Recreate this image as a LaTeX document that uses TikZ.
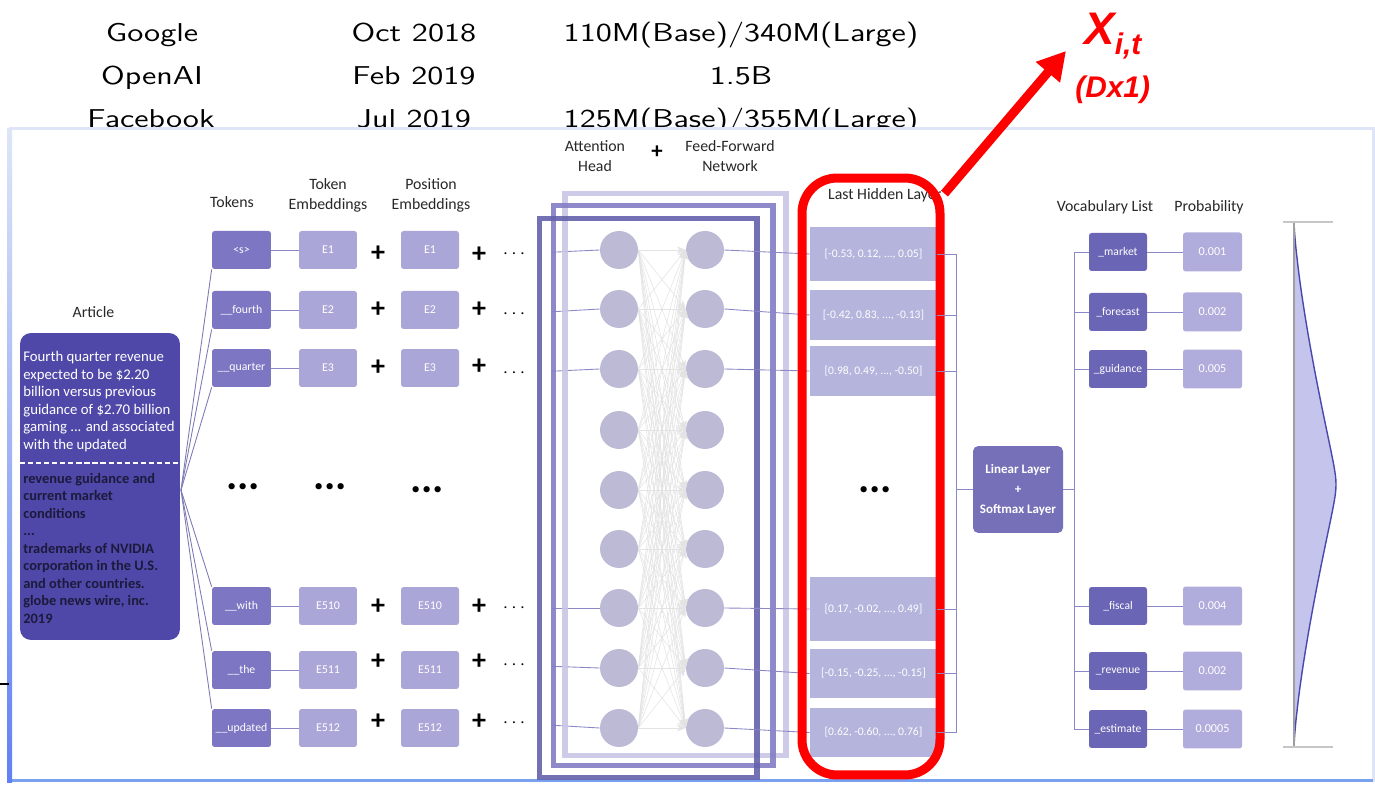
\documentclass[tikz,border=0pt]{standalone}
\usepackage{fontspec}
\usepackage{graphicx}
\setmainfont{Carlito}
\newfontfamily\redfont{Liberation Sans}
\usetikzlibrary{arrows.meta,shapes.geometric}

\definecolor{artc}{RGB}{80,72,168}
\definecolor{artdark}{RGB}{28,26,60}
\definecolor{tokc}{RGB}{125,118,195}
\definecolor{embc}{RGB}{170,166,216}
\definecolor{hidc}{RGB}{180,180,220}
\definecolor{neuc}{RGB}{188,186,213}
\definecolor{vocc}{RGB}{107,101,181}
\definecolor{prbc}{RGB}{176,172,220}
\definecolor{linc}{RGB}{118,112,184}
\definecolor{frmA}{RGB}{200,198,230}
\definecolor{frmB}{RGB}{130,126,196}
\definecolor{frmC}{RGB}{100,98,172}
\definecolor{linkc}{RGB}{140,136,200}
\definecolor{paneltop}{RGB}{222,229,247}
\definecolor{panelbot}{RGB}{122,160,240}
\definecolor{curvec}{RGB}{196,196,236}
\definecolor{curveln}{RGB}{72,72,176}
\definecolor{hdrc}{RGB}{40,40,40}

\newcommand{\wide}[1]{\scalebox{1.27}[1]{#1}}

\begin{document}
\begin{tikzpicture}[x=0.02cm, y=-0.02cm,
  every node/.style={inner sep=1pt},
  toptxt/.style={font=\sffamily\fontsize{14.7}{14.7}\selectfont, anchor=base},
  hdr/.style={font=\fontsize{9}{11.4}\selectfont, text=hdrc, align=center},
  arttxt/.style={font=\fontsize{8.4}{9.96}\selectfont, align=left, anchor=north west, inner sep=0pt},
  tok/.style={fill=tokc, rounded corners=1.5pt, minimum width=1.18cm, minimum height=0.76cm,
              text=white, font=\fontsize{6.7}{8}\selectfont},
  emb/.style={fill=embc, rounded corners=1.5pt, minimum width=1.16cm, minimum height=0.76cm,
              text=white, font=\fontsize{6.8}{8}\selectfont},
  hid/.style={fill=hidc, minimum width=2.54cm, minimum height=1cm,
              text=white, font=\fontsize{6.6}{8}\selectfont},
  voc/.style={fill=vocc, rounded corners=1.5pt, minimum width=1.16cm, minimum height=0.76cm,
              text=white, font=\fontsize{6.6}{8}\selectfont},
  prb/.style={fill=prbc, rounded corners=1.5pt, minimum width=1.18cm, minimum height=0.78cm,
              text=white, font=\fontsize{6.9}{8}\selectfont},
  lin/.style={fill=linc, rounded corners=3pt, minimum width=1.8cm, minimum height=1.74cm,
              text=white, align=center, font=\fontsize{7.4}{11.4}\selectfont\bfseries},
  neu/.style={circle, fill=neuc, minimum size=0.76cm, inner sep=0pt},
  frm/.style={line width=0.11cm, draw opacity=0.9},
  pl/.style={font=\fontsize{16}{16}\selectfont\bfseries},
  cd/.style={font=\fontsize{11}{11}\selectfont},
  bigdots/.style={font=\fontsize{24}{24}\selectfont\bfseries},
  link/.style={draw=linkc, line width=0.5pt},
  fanln/.style={draw=linkc!90!black, line width=0.5pt},
  mesh/.style={draw=black!11, line width=0.3pt, -{Stealth[length=5pt,width=4pt]}},
  hl/.style={draw=red, line width=0.18cm, rounded corners=0.7cm},
  redarr/.style={draw=red, line width=0.18cm, -{Triangle[length=0.56cm,width=0.6cm]}},
  redtxt/.style={font=\redfont\bfseries\itshape, text=red, inner sep=0pt}]

\useasboundingbox (0,0) rectangle (1375,786);

%% --- Model table (top of slide) ---
\node[toptxt] (m1) at (152,42)  {\wide{Google}};
\node[toptxt] (d1) at (414,42)  {\wide{Oct 2018}};
\node[toptxt] (s1) at (741,42)  {\wide{110M(Base)/340M(Large)}};
\node[toptxt] (m2) at (152,85)  {\wide{OpenAI}};
\node[toptxt] (d2) at (414,85)  {\wide{Feb 2019}};
\node[toptxt] (s2) at (741,85)  {\wide{1.5B}};
\node[toptxt] (m3) at (151,128) {\wide{Facebook}};
\node[toptxt] (d3) at (414,128) {\wide{Jul 2019}};
\node[toptxt] (s3) at (741,128) {\wide{125M(Base)/355M(Large)}};

%% --- Slide panel ---
\draw[draw=paneltop, line width=0.06cm, fill=white] (10,129) rectangle (1373,780);
\draw[draw=panelbot, line width=0.06cm] (10,780) -- (1373,780);
\shade[top color=paneltop, bottom color=panelbot!80!blue] (7,129) rectangle (12,782);
\draw[line width=0.03cm] (0,684) -- (9,684);

%% --- Article ---
\node[hdr] (arthdr) at (93.5,312) {Article};
\node[fill=artc, rounded corners=0.22cm, minimum width=3.2cm, minimum height=6.14cm] (art) at (100,486.5) {};
\node[arttxt, text=white] (artA) at (23,351) {Fourth quarter revenue\\expected to be \$2.20\\billion versus previous\\guidance of \$2.70 billion\\gaming ... and associated\\with the updated};
\draw[white, line width=0.6pt, dash pattern=on 3pt off 1.6pt] (art.west |- 0,463) -- (art.east |- 0,463);
\node[arttxt, text=artdark, font=\fontsize{8.2}{9.96}\selectfont\bfseries] (artB) at (23,473) {revenue guidance and\\current market\\conditions\\...\\trademarks of NVIDIA\\corporation in the U.S.\\and other countries.\\globe news wire, inc.\\2019};

%% --- Headers ---
\node[hdr] (tokhdr) at (232,202) {Tokens};
\node[hdr] (tehdr)  at (328,195) {Token\\Embeddings};
\node[hdr] (pehdr)  at (431,195) {Position\\Embeddings};
\node[hdr] (athdr)  at (595,156) {Attention\\Head};
\node[pl, font=\fontsize{13}{13}\selectfont\bfseries] (atplus) at (657,152) {+};
\node[hdr] (ffhdr)  at (730,156) {Feed-Forward\\Network};
\node[hdr, anchor=west] (lhhdr) at (826,195) {Last Hidden Layer};
\node[hdr] (vochdr) at (1105,207) {Vocabulary List};
\node[hdr] (prbhdr) at (1209,207) {Probability};

%% --- Tokens and embeddings ---
\node[tok] (T1) at (241.5,250) {\textless s\textgreater};
\node[tok] (T2) at (241.5,310) {\_\_fourth};
\node[tok] (T3) at (241.5,368) {\_\_quarter};
\node[tok] (T4) at (241.5,606) {\_\_with};
\node[tok] (T5) at (241.5,670) {\_\_the};
\node[tok] (T6) at (241.5,728) {\_\_updated};

\node[emb] (TE1) at (328,250) {E1};   \node[emb] (PE1) at (430,250) {E1};
\node[emb] (TE2) at (328,310) {E2};   \node[emb] (PE2) at (430,310) {E2};
\node[emb] (TE3) at (328,368) {E3};   \node[emb] (PE3) at (430,368) {E3};
\node[emb] (TE4) at (328,606) {E510}; \node[emb] (PE4) at (430,606) {E510};
\node[emb] (TE5) at (328,670) {E511}; \node[emb] (PE5) at (430,670) {E511};
\node[emb] (TE6) at (328,728) {E512}; \node[emb] (PE6) at (430,728) {E512};

\node[pl] (PA1) at (378,254) {+}; \node[pl] (PB1) at (479,255) {+}; \node[cd] (D1) at (514,254) {$\cdots$};
\node[pl] (PA2) at (378,310) {+}; \node[pl] (PB2) at (479,310) {+}; \node[cd] (D2) at (514,314) {$\cdots$};
\node[pl] (PA3) at (378,368) {+}; \node[pl] (PB3) at (479,367) {+}; \node[cd] (D3) at (514,373) {$\cdots$};
\node[pl] (PA4) at (378,607) {+}; \node[pl] (PB4) at (479,607) {+}; \node[cd] (D4) at (514,608) {$\cdots$};
\node[pl] (PA5) at (378,662) {+}; \node[pl] (PB5) at (479,662) {+}; \node[cd] (D5) at (514,665) {$\cdots$};
\node[pl] (PA6) at (378,722) {+}; \node[pl] (PB6) at (479,722) {+}; \node[cd] (D6) at (514,723) {$\cdots$};

\node[bigdots] (gapT)  at (243,487) {...};
\node[bigdots] (gapTE) at (330,487) {...};
\node[bigdots] (gapPE) at (427,490) {...};

\coordinate (fan) at (181,490);
\draw[fanln] (fan) -- (T1.south west); \draw[fanln] (fan) -- (T2.south west);
\draw[fanln] (fan) -- (T3.south west); \draw[fanln] (fan) -- (T4.north west);
\draw[fanln] (fan) -- (T5.north west); \draw[fanln] (fan) -- (T6.north west);
\draw[link] (T1) -- (TE1);  \draw[link] (T2) -- (TE2);  \draw[link] (T3) -- (TE3);
\draw[link] (T4) -- (TE4);  \draw[link] (T5) -- (TE5);  \draw[link] (T6) -- (TE6);

%% --- Transformer block ---
\foreach \y [count=\k] in {250,309,369,430,490,549,608,668,728} {
  \node[neu] (L\k) at (619,\y) {};
  \node[neu] (R\k) at (705,\y) {};
}
\foreach \i in {1,...,9} {\foreach \j in {1,...,9} {\draw[mesh] (L\i.east) -- (R\j.west);}}
\draw[link, shorten <=0.5cm] (D1) -- (L1.west);  \draw[link, shorten <=0.5cm] (D2) -- (L2.west);
\draw[link, shorten <=0.5cm] (D3) -- (L3.west);  \draw[link, shorten <=0.5cm] (D4) -- (L7.west);
\draw[link, shorten <=0.5cm] (D5) -- (L8.west);  \draw[link, shorten <=0.5cm] (D6) -- (L9.west);

\node[frm, draw=frmA, minimum width=4.42cm, minimum height=11.24cm] (FA) at (675.5,474.5) {};
\node[frm, draw=frmB, minimum width=4.39cm, minimum height=11.2cm]  (FB) at (663.3,485.5) {};
\node[frm, draw=frmC, minimum width=4.35cm, minimum height=11.18cm] (FC) at (648.3,498) {};

%% --- Last hidden layer ---
\node[hid, minimum height=1.08cm] (H1) at (873.5,254)   {[-0.53, 0.12, ..., 0.05]};
\node[hid]                        (H2) at (873.5,315)   {[-0.42, 0.83, ..., -0.13]};
\node[hid]                        (H3) at (873.5,371)   {[0.98, 0.49, ..., -0.50]};
\node[hid, minimum height=1.28cm] (H4) at (873.5,609)   {[0.17, -0.02, ..., 0.49]};
\node[hid, minimum height=0.98cm] (H5) at (873.5,673.5) {[-0.15, -0.25, ..., -0.15]};
\node[hid, minimum height=0.98cm] (H6) at (873.5,732.5) {[0.62, -0.60, ..., 0.76]};
\node[bigdots] (gapH) at (875,490) {...};

\draw[link] (R1.east) -- (H1.west);  \draw[link] (R2.east) -- (H2.west);
\draw[link] (R3.east) -- (H3.west);  \draw[link] (R7.east) -- (H4.west);
\draw[link] (R8.east) -- (H5.west);  \draw[link] (R9.east) -- (H6.west);

%% --- Highlight X_{i,t} ---
\node[hl, minimum width=2.76cm, minimum height=11.94cm] (HL) at (871,476.5) {};
\coordinate (xtip) at (1066,51);
\draw[redarr] ([yshift=-0.4cm]HL.north east) -- (xtip);
\node[redtxt, anchor=base west, font=\redfont\bfseries\itshape\fontsize{26}{26}\selectfont] (XIT) at (1084,45)
  {X\raisebox{-5.5pt}{\fontsize{17}{17}\selectfont i,t}};
\node[redtxt, anchor=base west, font=\redfont\bfseries\itshape\fontsize{17}{17}\selectfont] (DIM) at (1075,98) {(Dx1)};

%% --- Output head ---
\node[lin] (LIN) at (1018,489.5) {Linear Layer\\+\\Softmax Layer};

\node[voc] (V1) at (1118,252) {\_market};   \node[prb] (P1) at (1212.5,252) {0.001};
\node[voc] (V2) at (1118,312) {\_forecast}; \node[prb] (P2) at (1212.5,312) {0.002};
\node[voc] (V3) at (1118,369) {\_guidance}; \node[prb] (P3) at (1212.5,369) {0.005};
\node[voc] (V4) at (1118,606) {\_fiscal};   \node[prb] (P4) at (1212.5,606) {0.004};
\node[voc] (V5) at (1118,671) {\_revenue};  \node[prb] (P5) at (1212.5,671) {0.002};
\node[voc] (V6) at (1118,729) {\_estimate}; \node[prb] (P6) at (1212.5,729) {0.0005};

\draw[link] (H1.east) -- ++(19,0) |- (LIN.west);  \draw[link] (H2.east) -- ++(19,0) |- (LIN.west);
\draw[link] (H3.east) -- ++(19,0) |- (LIN.west);  \draw[link] (H4.east) -- ++(19,0) |- (LIN.west);
\draw[link] (H5.east) -- ++(19,0) |- (LIN.west);  \draw[link] (H6.east) -- ++(19,0) |- (LIN.west);
\draw[link] (LIN.east) -- ++(11,0) |- (V1.west);  \draw[link] (LIN.east) -- ++(11,0) |- (V2.west);
\draw[link] (LIN.east) -- ++(11,0) |- (V3.west);  \draw[link] (LIN.east) -- ++(11,0) |- (V4.west);
\draw[link] (LIN.east) -- ++(11,0) |- (V5.west);  \draw[link] (LIN.east) -- ++(11,0) |- (V6.west);
\draw[link] (V1) -- (P1);  \draw[link] (V2) -- (P2);  \draw[link] (V3) -- (P3);
\draw[link] (V4) -- (P4);  \draw[link] (V5) -- (P5);  \draw[link] (V6) -- (P6);

%% --- Probability curve ---
\fill[curvec] plot[domain=-1:1, samples=121, variable=\t]
  ({1294+42*pow(max(0.0001,1-(sqrt(\t*\t+0.003)-0.0548)/0.9467),1.37)}, {484.5+262.5*\t}) -- cycle;
\draw[curveln, line width=0.8pt] plot[domain=-1:1, samples=121, variable=\t]
  ({1294+42*pow(max(0.0001,1-(sqrt(\t*\t+0.003)-0.0548)/0.9467),1.37)}, {484.5+262.5*\t});
\draw[gray!75, line width=0.8pt] (1294,222) -- (1294,747);
\draw[gray!45, line width=0.6pt] (1283,222) -- (1333,222);
\draw[gray!45, line width=0.6pt] (1283,747) -- (1333,747);
\end{tikzpicture}
\end{document}
